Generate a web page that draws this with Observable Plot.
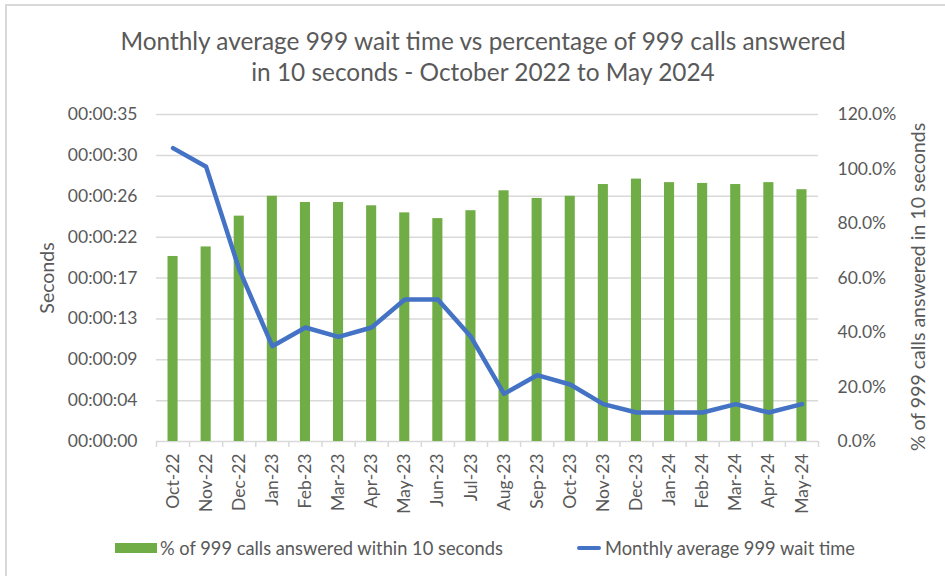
<!DOCTYPE html>
<html>
<head>
<meta charset="utf-8">
<script src="https://cdn.jsdelivr.net/npm/d3@7"></script>
<script src="https://cdn.jsdelivr.net/npm/@observablehq/plot@0.6"></script>
<style>
  html, body { margin: 0; padding: 0; background: #fff; }
  #wrap { position: relative; width: 945px; height: 576px; overflow: hidden; font-family: Lato, "Open Sans", sans-serif; color: #595959; }
  #frame { position: absolute; left: 5px; top: 4px; width: 1200px; height: 1200px; border-left: 2px solid #d9d9d9; border-top: 2px solid #d9d9d9; }
  #title { position: absolute; left: 0; top: 25px; width: 966px; text-align: center; font-size: 24.4px; line-height: 31px; color: #595959; }
  #chart { position: absolute; left: 0; top: 90px; }
  .leg { position: absolute; top: 538px; height: 20px; display: flex; align-items: center; font-size: 18.3px; color: #595959; white-space: nowrap; }
  .sw-bar { width: 42px; height: 10px; background: #70AD47; margin-right: 3px; }
  .sw-line { width: 24px; height: 4px; background: #4472C4; border-radius: 2px; margin-right: 4px; }
</style>
</head>
<body>
<div id="wrap">
  <div id="frame"></div>
  <div id="title">Monthly average 999 wait time vs percentage of 999 calls answered<br>in 10 seconds - October 2022 to May 2024</div>
  <div id="chart"></div>
  <div class="leg" style="left:115px"><div class="sw-bar"></div><span id="leg1"></span></div>
  <div class="leg" style="left:577px"><div class="sw-line"></div><span id="leg2"></span></div>
</div>
<script>
// ---- data ----
const months = ["Oct-22","Nov-22","Dec-22","Jan-23","Feb-23","Mar-23","Apr-23","May-23","Jun-23","Jul-23",
                "Aug-23","Sep-23","Oct-23","Nov-23","Dec-23","Jan-24","Feb-24","Mar-24","Apr-24","May-24"];
const pctAnswered = [67.9, 71.4, 82.7, 90.0, 87.7, 87.7, 86.5, 83.9, 81.8, 84.7,
                     92.0, 89.2, 90.0, 94.3, 96.3, 95.0, 94.7, 94.3, 95.0, 92.4];
const waitSeconds = [31.4, 29.4, 18.4, 10.2, 12.2, 11.2, 12.2, 15.2, 15.2, 11.2,
                     5.1, 7.1, 6.1, 4.0, 3.1, 3.1, 3.1, 4.0, 3.1, 4.0];
const leftMaxSeconds = 35;
const leftTickSeconds = [0, 4.375, 8.75, 13.125, 17.5, 21.875, 26.25, 30.625, 35];
const leftTickLabels = ["00:00:00","00:00:04","00:00:09","00:00:13","00:00:17","00:00:22","00:00:26","00:00:30","00:00:35"];
const rightTicks = [0, 20, 40, 60, 80, 100, 120];
const rightTickLabels = ["0.0%","20.0%","40.0%","60.0%","80.0%","100.0%","120.0%"];
const leftTitle = "Seconds";
const rightTitle = "% of 999 calls answered in 10 seconds";
const seriesBar = "% of 999 calls answered within 10 seconds";
const seriesLine = "Monthly average 999 wait time";

document.getElementById("leg1").textContent = seriesBar;
document.getElementById("leg2").textContent = seriesLine;

// ---- build ----
const pctMax = 120;
const toPct = s => s * pctMax / leftMaxSeconds;
const rows = months.map((m, i) => ({m, i, pct: pctAnswered[i], sec: waitSeconds[i]}));
const leftTicksPct = leftTickSeconds.map(toPct);
const boundaries = d3.range(months.length + 1);
const centers = months.map((m, i) => i + 0.5);

const chart = Plot.plot({
  width: 945,
  height: 440,
  marginTop: 24,
  marginBottom: 89,
  marginLeft: 156,
  marginRight: 127,
  style: {fontFamily: "Lato, 'Open Sans', sans-serif", fontSize: "17.5px", color: "#595959", background: "transparent"},
  x: {type: "linear", domain: [0, months.length], axis: null},
  y: {domain: [0, pctMax], axis: null},
  marks: [
    Plot.ruleY(leftTicksPct, {stroke: "#d9d9d9", strokeWidth: 1.5}),
    Plot.rectY(rows, {x1: "i", x2: d => d.i + 1, y: "pct", fill: "#70AD47", insetLeft: 11.5, insetRight: 11.5}),
    Plot.line(rows, {x: d => d.i + 0.5, y: d => toPct(d.sec), stroke: "#4472C4", strokeWidth: 4.5, strokeLinejoin: "round", strokeLinecap: "round"}),
    Plot.axisX({ticks: boundaries, tickSize: 6, tickFormat: () => "", stroke: "#d9d9d9", strokeWidth: 1.5, label: null}),
    Plot.axisX({ticks: centers, tickSize: 0, tickPadding: 12, tickRotate: -90, label: null,
      tickFormat: (d) => months[Math.floor(d)], fill: "#595959", fontSize: 17.5}),
    Plot.axisY({anchor: "left", ticks: leftTicksPct, tickSize: 0, tickPadding: 19, label: null,
      tickFormat: (d, k) => leftTickLabels[k], fill: "#595959", fontSize: 17.5}),
    Plot.axisY({anchor: "right", ticks: rightTicks, tickSize: 0, tickPadding: 19, label: null,
      tickFormat: (d, k) => rightTickLabels[k], fill: "#595959", fontSize: 17.5}),
    Plot.text([leftTitle], {frameAnchor: "left", textAnchor: "middle", rotate: -90, dx: -109, fontSize: 19.5, fill: "#595959"}),
    Plot.text([rightTitle], {frameAnchor: "right", textAnchor: "middle", rotate: -90, dx: 100, dy: 9, fontSize: 19.5, fill: "#595959"})
  ]
});
document.getElementById("chart").appendChild(chart);
</script>
</body>
</html>
